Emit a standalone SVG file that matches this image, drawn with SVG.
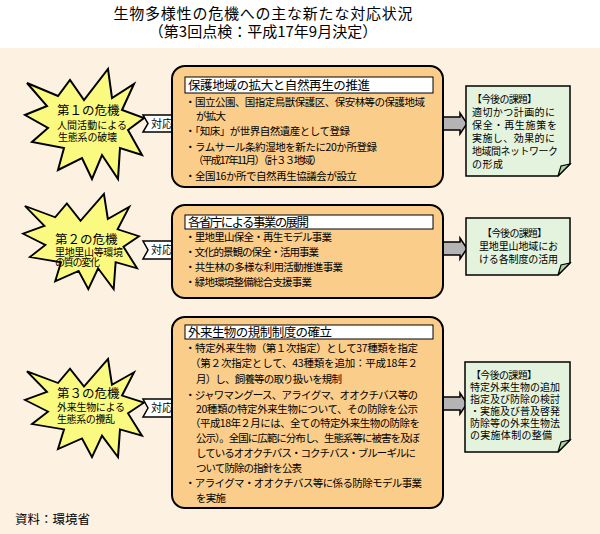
<svg xmlns="http://www.w3.org/2000/svg" width="600" height="534" viewBox="0 0 600 534">
<style>
text{font-family:"Noto Sans CJK JP","Noto Sans CJK SC",sans-serif;fill:#000}
.t{font-size:15px;text-anchor:middle}
.b{font-size:10.5px}
.h{font-size:12.5px}
.s1{font-size:12.5px}
.s2{font-size:10px}
.g{font-size:10px}
.tag{font-size:11px;text-anchor:middle}
.star{fill:#FAFA80;stroke:#000;stroke-width:2;vector-effect:non-scaling-stroke;stroke-linejoin:miter}
.box{fill:#FBCD8B;stroke:#000;stroke-width:2}
.hd{fill:#fff;stroke:#000;stroke-width:1}
.gr{fill:#E4F3DD;stroke:#000;stroke-width:1.5}
.fold{fill:#A9D59C;stroke:#000;stroke-width:1.2}
.tg{fill:#fff;stroke:#000;stroke-width:1.5}
.ar{fill:#B4B4B4;stroke:#000;stroke-width:1.5}
</style>
<defs>
<path id="burst" d="M2,15 L33,28 L45,12 L59,32 L83,1 L87,30 L109,16 L97,42 L119,50 L103,62 L117,87 L95,80 L93,111 L77,87 L67,111 L57,90 L33,102 L39,80 L7,74 L23,60 L0,47 L22,38 Z"/>
</defs>
<rect x="0" y="0" width="600" height="534" fill="#fff"/>
<rect x="0" y="48" width="600" height="486" fill="#FDF1E2"/>
<text class="t" x="263" y="19" textLength="299">生物多様性の危機への主な新たな対応状況</text>
<text class="t" x="263" y="37">（第3回点検：平成17年9月決定）</text>

<g id="connectors">
<path class="ar" d="M443,117 H460 V113 L467,123.5 L460,134 V130 H443 Z"/>
<path class="ar" d="M443,242 H460 V238 L467,248.5 L460,259 V255 H443 Z"/>
<path class="ar" d="M443,397 H460 V393 L467,403.5 L460,414 V410 H443 Z"/>
</g>

<g id="crisis1">
<use href="#burst" class="star" transform="translate(25,68)"/>
<text class="s1" x="57" y="115">第１の危機</text>
<text class="s2" x="57" y="128.5" textLength="70">人間活動による</text>
<text class="s2" x="58" y="140.5" textLength="59">生態系の破壊</text>
</g>
<g id="crisis2">
<use href="#burst" class="star" transform="translate(23,193) scale(0.975,0.866)"/>
<text class="s1" x="55" y="244">第２の危機</text>
<text class="s2" x="55" y="255.5" textLength="68">里地里山等環境</text>
<text class="s2" x="55" y="266" textLength="45">の質の変化</text>
</g>
<g id="crisis3">
<use href="#burst" class="star" transform="translate(25,358) scale(1,0.893)"/>
<text class="s1" x="57" y="398">第３の危機</text>
<text class="s2" x="57" y="411" textLength="68">外来生物による</text>
<text class="s2" x="57" y="423" textLength="58">生態系の攪乱</text>
</g>

<g id="tag1">
<path class="tg" d="M143,115 H173 L180,123.5 L173,132 H143 L148,123.5 Z"/>
<text class="tag" x="162" y="127.5">対応</text>
</g>
<g id="tag2">
<path class="tg" d="M143,241 H173 L180,250 L173,259 H143 L148,250 Z"/>
<text class="tag" x="162" y="254">対応</text>
</g>
<g id="tag3">
<path class="tg" d="M143,399 H173 L180,408 L173,417 H143 L148,408 Z"/>
<text class="tag" x="162" y="412">対応</text>
</g>

<g id="measure1">
<rect class="box" x="172" y="66" width="271" height="121" rx="13"/>
<rect class="hd" x="185" y="77" width="248" height="16"/>
<text class="h" x="188" y="89.5" textLength="182">保護地域の拡大と自然再生の推進</text>
<text class="b" x="185" y="106" textLength="240">・国立公園、国指定鳥獣保護区、保安林等の保護地域</text>
<text class="b" x="196" y="120" textLength="30">が拡大</text>
<text class="b" x="185" y="135" textLength="165">・「知床」が世界自然遺産として登録</text>
<text class="b" x="185" y="151" textLength="192">・ラムサール条約湿地を新たに20か所登録</text>
<text class="b" x="193" y="164" textLength="129">（平成17年11月）（計３３地域）</text>
<text class="b" x="185" y="180" textLength="172">・全国16か所で自然再生協議会が設立</text>
</g>

<g id="measure2">
<rect class="box" x="172" y="205" width="271" height="93" rx="13"/>
<rect class="hd" x="185" y="215" width="248" height="14"/>
<text class="h" x="188" y="226.5" textLength="121">各省庁による事業の展開</text>
<text class="b" x="185" y="241" textLength="147">・里地里山保全・再生モデル事業</text>
<text class="b" x="185" y="256" textLength="134">・文化的景観の保全・活用事業</text>
<text class="b" x="185" y="271" textLength="158">・共生林の多様な利用活動推進事業</text>
<text class="b" x="185" y="286" textLength="127">・緑地環境整備総合支援事業</text>
</g>

<g id="measure3">
<rect class="box" x="172" y="317" width="271" height="191" rx="13"/>
<rect class="hd" x="185" y="325" width="248" height="14"/>
<text class="h" x="188" y="336.5" textLength="144">外来生物の規制制度の確立</text>
<text class="b" x="185" y="352" textLength="233">・特定外来生物（第１次指定）として37種類を指定</text>
<text class="b" x="190" y="367" textLength="228">（第２次指定として、43種類を追加：平成18年２</text>
<text class="b" x="196" y="383" textLength="146">月）し、飼養等の取り扱いを規制</text>
<text class="b" x="185" y="399" textLength="233">・ジャワマングース、アライグマ、オオクチバス等の</text>
<text class="b" x="196" y="413" textLength="222">20種類の特定外来生物について、その防除を公示</text>
<text class="b" x="190" y="427" textLength="230">（平成18年２月には、全ての特定外来生物の防除を</text>
<text class="b" x="196" y="442" textLength="224">公示）。全国に広範に分布し、生態系等に被害を及ぼ</text>
<text class="b" x="196" y="457" textLength="220">しているオオクチバス・コクチバス・ブルーギルに</text>
<text class="b" x="196" y="472" textLength="106">ついて防除の指針を公表</text>
<text class="b" x="185" y="487" textLength="237">・アライグマ・オオクチバス等に係る防除モデル事業</text>
<text class="b" x="196" y="502" textLength="30">を実施</text>
</g>

<g id="task1">
<path class="gr" d="M466,86 H570 V164 L558,176 H466 Z"/>
<path class="fold" d="M558,176 L561,166 L570,164 Z"/>
<text class="g" x="472" y="103" textLength="65">【今後の課題】</text>
<text class="g" x="472" y="116" textLength="83">適切かつ計画的に</text>
<text class="g" x="472" y="129" textLength="85">保全・再生施策を</text>
<text class="g" x="472" y="142" textLength="83">実施し、効果的に</text>
<text class="g" x="472" y="155" textLength="86">地域間ネットワーク</text>
<text class="g" x="472" y="168" textLength="31">の形成</text>
</g>

<g id="task2">
<path class="gr" d="M466,218 H570 V263 L558,275 H466 Z"/>
<path class="fold" d="M558,275 L561,265 L570,263 Z"/>
<text class="g" x="482" y="237" textLength="65">【今後の課題】</text>
<text class="g" x="479" y="250" textLength="79">里地里山地域にお</text>
<text class="g" x="479" y="263" textLength="79">ける各制度の活用</text>
</g>

<g id="task3">
<path class="gr" d="M465,362 H570 V440 L558,452 H465 Z"/>
<path class="fold" d="M558,452 L561,442 L570,440 Z"/>
<text class="g" x="471" y="379" textLength="66">【今後の課題】</text>
<text class="g" x="470" y="391" textLength="90">特定外来生物の追加</text>
<text class="g" x="470" y="403" textLength="90">指定及び防除の検討</text>
<text class="g" x="470" y="415" textLength="90">・実施及び普及啓発</text>
<text class="g" x="470" y="427" textLength="90">防除等の外来生物法</text>
<text class="g" x="470" y="439" textLength="82">の実施体制の整備</text>
</g>

<text x="15" y="524" style="font-size:12.5px">資料：環境省</text>
</svg>
